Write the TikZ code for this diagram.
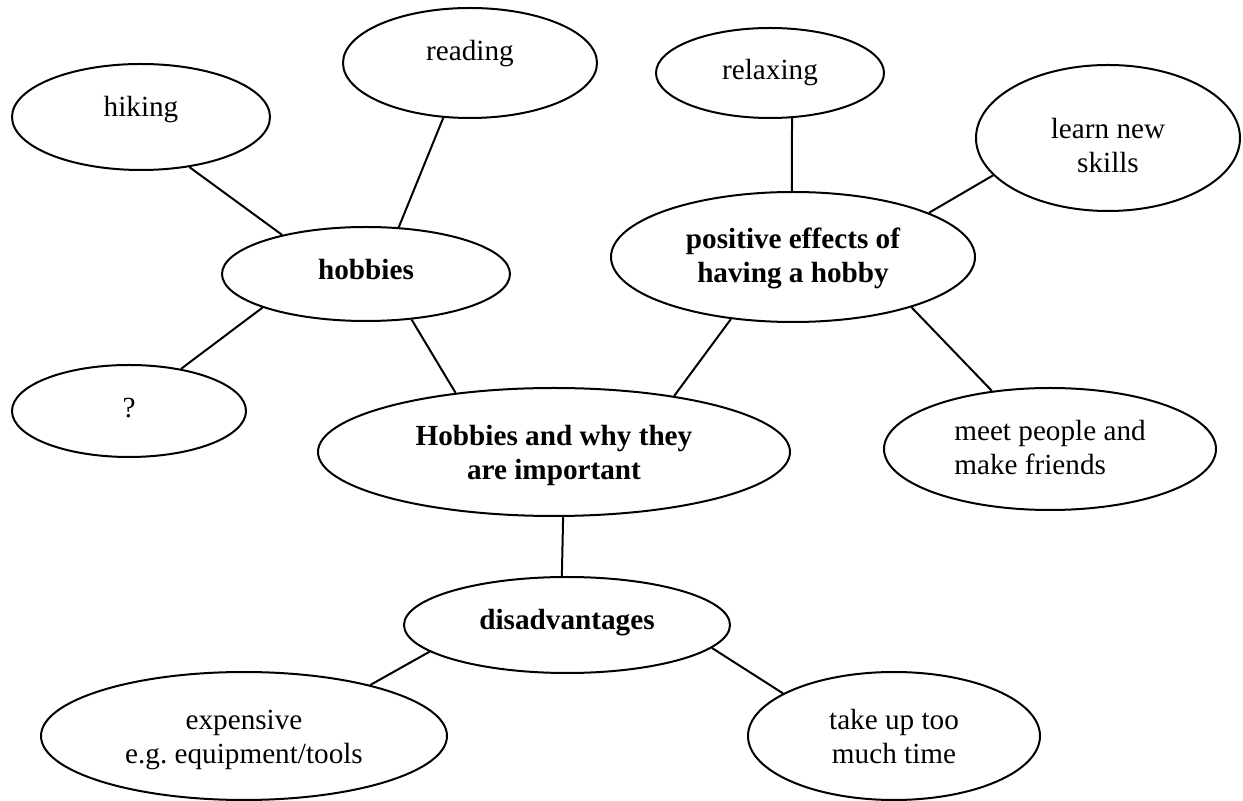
\documentclass[tikz,border=0pt]{standalone}
\usepackage{fontspec}
\setmainfont{Liberation Serif}
\usetikzlibrary{shapes.geometric}
\newcommand\mylift[2]{\raisebox{#1}[\height][\depth]{#2}}
\newcommand\mytwo[2]{\begin{tabular}{@{}c@{}}#1\\#2\end{tabular}}
\newcommand\mytwol[2]{\begin{tabular}{@{}l@{}}#1\\#2\end{tabular}}
\begin{document}
\begin{tikzpicture}[x=0.5pt,y=-0.5pt,
  oval/.style={ellipse, draw, line width=1pt, inner sep=0pt, align=center,
    font=\fontsize{14.6pt}{17pt}\selectfont},
  hub/.style={oval, font=\fontsize{14.6pt}{17pt}\selectfont\bfseries},
  link/.style={line width=1pt}]
\useasboundingbox (0,0) rectangle (1243,801);
% outer ring
\node[oval, minimum width=129pt, minimum height=53pt] (hik) at (141,117) {\mylift{3.5pt}{hiking}};
\node[oval, minimum width=127pt, minimum height=55pt] (rea) at (470,63) {\mylift{4.5pt}{reading}};
\node[oval, minimum width=114pt, minimum height=45pt] (rel) at (770,73) {relaxing};
\node[oval, minimum width=132pt, minimum height=73pt] (lea) at (1108,138) {\mylift{-5.5pt}{\mytwo{learn new}{skills}}};
\node[hub, minimum width=182pt, minimum height=65pt] (pos) at (793,257) {\mylift{-1pt}{\mytwo{positive effects of}{having a hobby}}};
\node[hub, minimum width=144pt, minimum height=47pt] (hob) at (366,274) {\mylift{2pt}{hobbies}};
\node[oval, minimum width=117pt, minimum height=46pt] (que) at (129,411) {\mylift{1.5pt}{?}};
\node[hub, minimum width=236pt, minimum height=64pt] (cen) at (554,452) {\mylift{-2pt}{\mytwo{Hobbies and why they}{are important}}};
\node[oval, minimum width=166pt, minimum height=61pt] (mee) at (1050,449) {\mylift{-1pt}{\mytwol{meet people and}{make friends}}};
\node[hub, minimum width=163pt, minimum height=48pt] (dis) at (567,625) {\mylift{1pt}{disadvantages}};
\node[oval, minimum width=203pt, minimum height=64pt] (exp) at (244,736) {\mylift{-2pt}{\mytwo{expensive}{e.g.\ equipment/tools}}};
\node[oval, minimum width=146pt, minimum height=64pt] (tak) at (894,736) {\mylift{-2pt}{\mytwo{take up too}{much time}}};
% connectors
\draw[link] (hik.-46.1) -- (hob.155.6);
\draw[link] (rea.244.3) -- (hob.55.7);
\draw[link] (hob.198.6) -- (que.39.6);
\draw[link] (hob.-45.6) -- (cen.149.9);
\draw[link] (rel.-64.5) -- (pos.91.8);
\draw[link] (lea.198) -- (pos.18.4);
\draw[link] (pos.225) -- (cen.25.4);
\draw[link] (pos.-23.2) -- (mee.135.5);
\draw[link] (cen.-82.9) -- (dis.96);
\draw[link] (dis.191.6) -- (exp.22.6);
\draw[link] (dis.-9.3) -- (tak.159.7);
\end{tikzpicture}
\end{document}
